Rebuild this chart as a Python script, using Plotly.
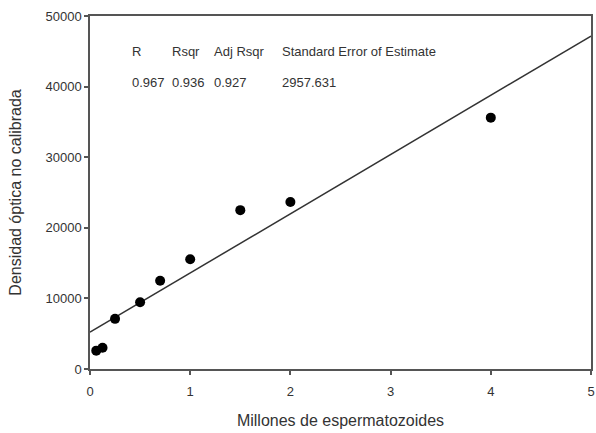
import numpy as np
import plotly.graph_objects as go

# Sperm count (millions) vs. uncalibrated optical density
millones = [0.0625, 0.125, 0.25, 0.5, 0.7, 1.0, 1.5, 2.0, 4.0]
densidad = [2600, 3000, 7100, 9450, 12500, 15550, 22500, 23650, 35600]

# Regression summary shown inside the plot
stat_headers = ["R", "Rsqr", "Adj Rsqr", "Standard Error of Estimate"]
stat_values = ["0.967", "0.936", "0.927", "2957.631"]
stat_x = [0.4, 0.8, 1.22, 1.9]

x_range = [0, 5]
y_range = [0, 50000]
x_ticks = [0, 1, 2, 3, 4, 5]
y_ticks = [0, 10000, 20000, 30000, 40000, 50000]

# Least-squares line over the full x axis
slope, intercept = np.polyfit(millones, densidad, 1)
fit_x = np.array(x_range, dtype=float)
fit_y = intercept + slope * fit_x

FONT = "Liberation Sans, Arial, sans-serif"
AXIS_COLOR = "#555555"
TEXT_COLOR = "#333333"

fig = go.Figure()
fig.add_trace(go.Scatter(
    x=fit_x, y=fit_y, mode="lines",
    line=dict(color="#333333", width=1.5),
    hoverinfo="skip", showlegend=False,
))
fig.add_trace(go.Scatter(
    x=millones, y=densidad, mode="markers",
    marker=dict(color="black", size=10),
    showlegend=False,
))

for xs, h, v in zip(stat_x, stat_headers, stat_values):
    fig.add_annotation(x=xs, y=45000, text=h, showarrow=False, xanchor="left",
                       yanchor="middle", font=dict(family=FONT, size=13, color=TEXT_COLOR))
    fig.add_annotation(x=xs, y=40650, text=v, showarrow=False, xanchor="left",
                       yanchor="middle", font=dict(family=FONT, size=13, color=TEXT_COLOR))

axis_common = dict(
    showgrid=False, zeroline=False, showline=True, mirror=True,
    linecolor=AXIS_COLOR, linewidth=1.5,
    ticks="outside", ticklen=4, tickcolor=AXIS_COLOR, tickwidth=1.5,
    tickfont=dict(family=FONT, size=13, color=TEXT_COLOR),
    ticklabeloverflow="allow",
)

fig.update_xaxes(
    range=x_range, tickvals=x_ticks, ticklabelstandoff=6, **axis_common,
    title=dict(text="Millones de espermatozoides", standoff=16,
               font=dict(family=FONT, size=16, color=TEXT_COLOR)),
)
fig.update_yaxes(
    range=y_range, tickvals=y_ticks, tickformat="d", **axis_common,
    title=dict(text="Densidad óptica no calibrada", standoff=20,
               font=dict(family=FONT, size=16, color=TEXT_COLOR)),
)

fig.update_layout(
    width=596, height=433,
    margin=dict(l=90, r=1.5, t=16, b=64),
    paper_bgcolor="white", plot_bgcolor="white",
    font=dict(family=FONT),
)

fig.write_html("out.html")
